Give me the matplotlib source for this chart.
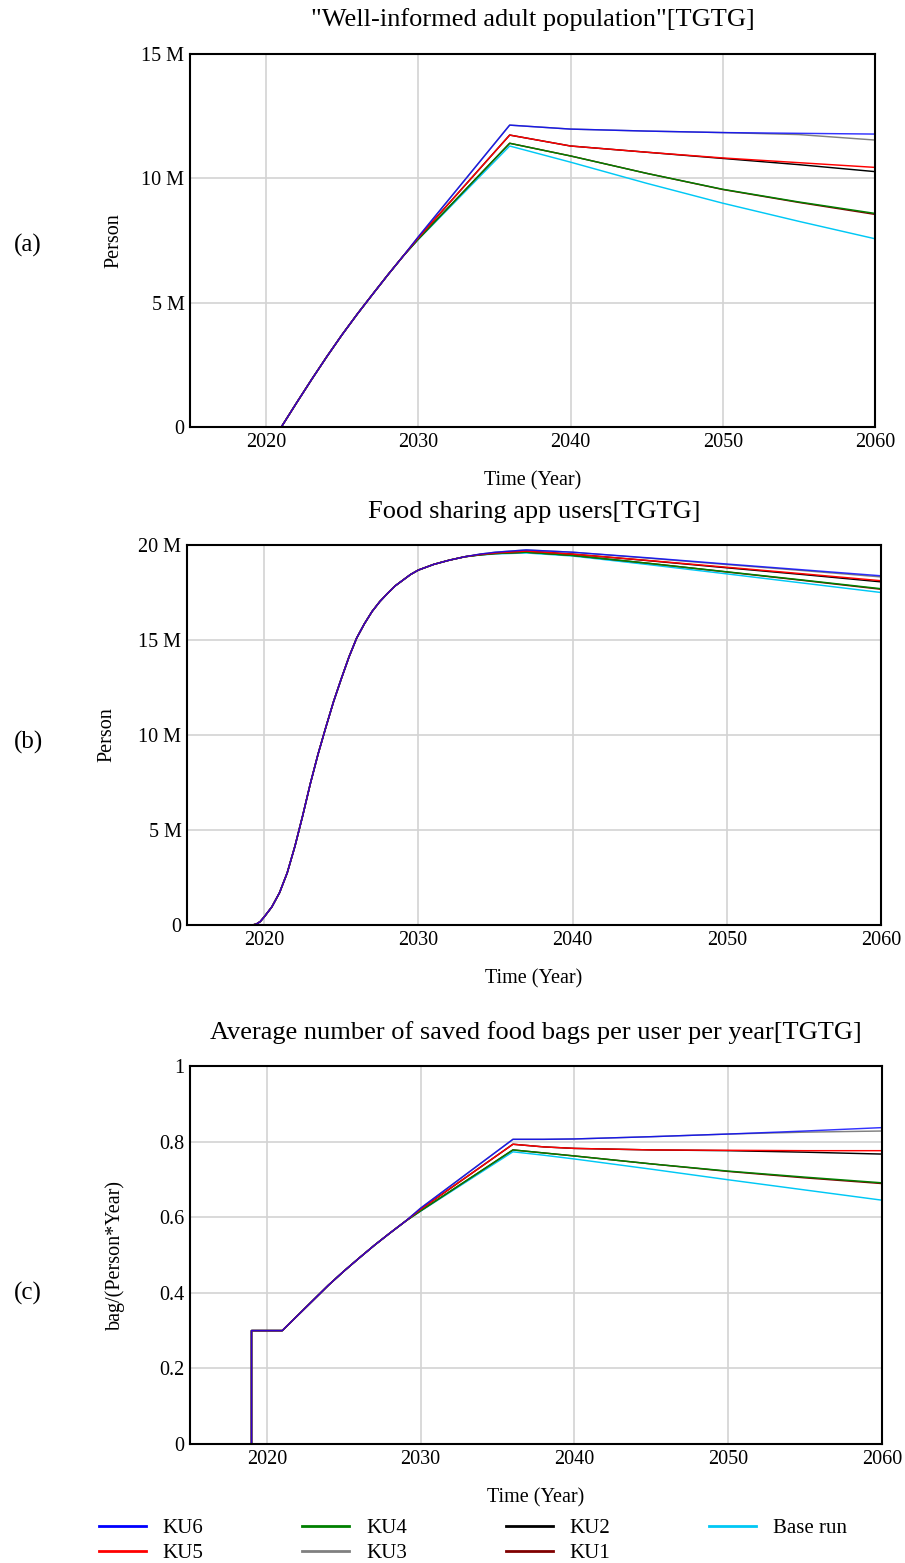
import matplotlib
matplotlib.use("Agg")
import matplotlib.pyplot as plt
from matplotlib.ticker import FuncFormatter, FixedLocator

plt.rcParams['font.family'] = ['Liberation Serif', 'DejaVu Serif']

series_names = ["Base run", "KU1", "KU2", "KU3", "KU4", "KU5", "KU6"]
series_colors = {"KU6": "#0000FF", "KU5": "#FF0000", "KU4": "#008000", "KU3": "#808080",
                 "KU2": "#000000", "KU1": "#800000", "Base run": "#00C8F5"}
legend_order = ["KU6", "KU5", "KU4", "KU3", "KU2", "KU1", "Base run"]

# ---- Panel (a): Well-informed adult population (million persons)
a_years = [2015, 2021, 2022, 2023, 2024, 2025, 2026, 2027, 2028, 2029, 2030, 2036, 2040, 2045, 2050, 2055, 2060]
a_common = [0, 0, 0.97, 1.92, 2.84, 3.72, 4.55, 5.34, 6.12, 6.87]
a_tail = {
    "KU6":      [7.65, 12.14, 11.98, 11.90, 11.84, 11.81, 11.78],
    "KU3":      [7.65, 12.14, 11.98, 11.90, 11.84, 11.76, 11.54],
    "KU5":      [7.61, 11.74, 11.30, 11.05, 10.82, 10.63, 10.44],
    "KU2":      [7.61, 11.74, 11.30, 11.05, 10.80, 10.55, 10.27],
    "KU4":      [7.56, 11.41, 10.90, 10.20, 9.56, 9.05, 8.59],
    "KU1":      [7.56, 11.41, 10.90, 10.20, 9.55, 9.03, 8.55],
    "Base run": [7.54, 11.30, 10.65, 9.80, 9.00, 8.27, 7.57],
}

# ---- Panel (b): Food sharing app users (million persons)
b_years = [2015, 2019.25, 2019.5, 2019.75, 2020, 2020.5, 2021, 2021.5, 2022, 2022.5, 2023, 2023.5,
           2024, 2024.5, 2025, 2025.5, 2026, 2026.5, 2027, 2027.5, 2028, 2028.5, 2029, 2029.5,
           2030, 2031, 2032, 2033,
           2034, 2035, 2037, 2040, 2045, 2050, 2055, 2060]
b_common = [0, 0, 0.05, 0.18, 0.42, 0.95, 1.7, 2.75, 4.15, 5.75, 7.45, 9.0,
            10.4, 11.75, 12.95, 14.1, 15.1, 15.85, 16.5, 17.02, 17.45, 17.85, 18.15, 18.45,
            18.68, 18.98, 19.2, 19.38]
b_tail = {
    "KU6":      [19.52, 19.62, 19.74, 19.62, 19.32, 19.00, 18.69, 18.38],
    "KU3":      [19.52, 19.62, 19.74, 19.62, 19.30, 18.97, 18.65, 18.32],
    "KU5":      [19.50, 19.58, 19.68, 19.52, 19.18, 18.83, 18.48, 18.12],
    "KU2":      [19.50, 19.58, 19.68, 19.52, 19.17, 18.80, 18.44, 18.06],
    "KU4":      [19.48, 19.55, 19.62, 19.45, 19.03, 18.59, 18.15, 17.70],
    "KU1":      [19.48, 19.55, 19.62, 19.45, 19.03, 18.58, 18.13, 17.67],
    "Base run": [19.47, 19.53, 19.58, 19.42, 18.96, 18.48, 17.99, 17.50],
}

# ---- Panel (c): Average number of saved food bags per user per year
c_years = [2015, 2019, 2019, 2021, 2022, 2023, 2024, 2025, 2026, 2027, 2028, 2029,
           2030, 2036, 2038, 2040, 2045, 2050, 2055, 2060]
c_common = [0, 0, 0.30, 0.30, 0.34, 0.38, 0.42, 0.457, 0.492, 0.526, 0.558, 0.589]
c_tail = {
    "KU6":      [0.624, 0.806, 0.806, 0.807, 0.813, 0.820, 0.828, 0.837],
    "KU3":      [0.624, 0.806, 0.806, 0.807, 0.813, 0.820, 0.825, 0.828],
    "KU5":      [0.621, 0.793, 0.786, 0.782, 0.778, 0.777, 0.776, 0.776],
    "KU2":      [0.621, 0.793, 0.786, 0.782, 0.778, 0.776, 0.772, 0.767],
    "KU4":      [0.617, 0.778, 0.770, 0.762, 0.741, 0.722, 0.706, 0.691],
    "KU1":      [0.617, 0.778, 0.770, 0.762, 0.741, 0.721, 0.704, 0.689],
    "Base run": [0.616, 0.773, 0.764, 0.754, 0.727, 0.699, 0.672, 0.645],
}

titles = ['"Well-informed adult population"[TGTG]',
          'Food sharing app users[TGTG]',
          'Average number of saved food bags per user per year[TGTG]']
ylabels = ['Person', 'Person', 'bag/(Person*Year)']
panel_tags = ['(a)', '(b)', '(c)']
x_ticks = [2020, 2030, 2040, 2050, 2060]
y_ticks = [[0, 5, 10, 15], [0, 5, 10, 15, 20], [0, 0.2, 0.4, 0.6, 0.8, 1.0]]
y_lims = [(0, 15), (0, 20), (0, 1)]

fig = plt.figure(figsize=(9.05, 15.63), dpi=100)
W, H = 905, 1563
boxes = [(190, 875, 54, 427), (187, 881, 545, 925), (190, 882, 1066, 1444)]
ylabel_x = [123, 116, 125]
tag_y = [245, 742, 1293]
title_y = [20, 512, 1033]

def fmt_m(v, pos):
    return '0' if abs(v) < 1e-9 else f'{int(round(v))} M'

def fmt_c(v, pos):
    if abs(v) < 1e-9:
        return '0'
    if abs(v - 1) < 1e-9:
        return '1'
    return f'{v:.1f}'

panels = [(a_years, a_common, a_tail), (b_years, b_common, b_tail), (c_years, c_common, c_tail)]
for i, (yrs, common, tail) in enumerate(panels):
    l, r, t, b = boxes[i]
    ax = fig.add_axes([l / W, 1 - b / H, (r - l) / W, (b - t) / H])
    for name in series_names:
        vals = common + tail[name]
        ax.plot(yrs, vals, color=series_colors[name], lw=1.05,
                alpha=0.8 if name == "KU6" else 1.0, zorder=3)
    ax.set_xlim(2015, 2060)
    ax.set_ylim(*y_lims[i])
    ax.xaxis.set_major_locator(FixedLocator(x_ticks))
    ax.yaxis.set_major_locator(FixedLocator(y_ticks[i]))
    ax.yaxis.set_major_formatter(FuncFormatter(fmt_c if i == 2 else fmt_m))
    ax.grid(True, color='#D3D3D3', lw=1.2, zorder=0)
    ax.tick_params(length=0, labelsize=14.5, pad=4)
    for s in ax.spines.values():
        s.set_color('black')
        s.set_linewidth(1.5)
        s.set_zorder(4)
    ax.set_xlabel('Time (Year)', fontsize=14.5, labelpad=14)
    ax.set_ylabel(ylabels[i], fontsize=14.5)
    ax.yaxis.set_label_coords((ylabel_x[i] - l) / (r - l), 0.5)
    fig.text(0.5 * (l + r) / W, 1 - title_y[i] / H, titles[i], fontsize=19,
             ha='center', va='center')
    fig.text(28 / W, 1 - tag_y[i] / H, panel_tags[i], fontsize=18, ha='center', va='center')

leg_handles = [plt.Line2D([], [], color=series_colors[n], lw=2) for n in legend_order]
fig.legend(leg_handles, legend_order, ncol=4, loc='center', bbox_to_anchor=(0.5225, 1 - 1541 / H),
           frameon=False, fontsize=15, handlelength=2.26, handletextpad=0.8, columnspacing=4.75,
           labelspacing=0.25, borderpad=0)

fig.savefig('out.png', dpi=100)
